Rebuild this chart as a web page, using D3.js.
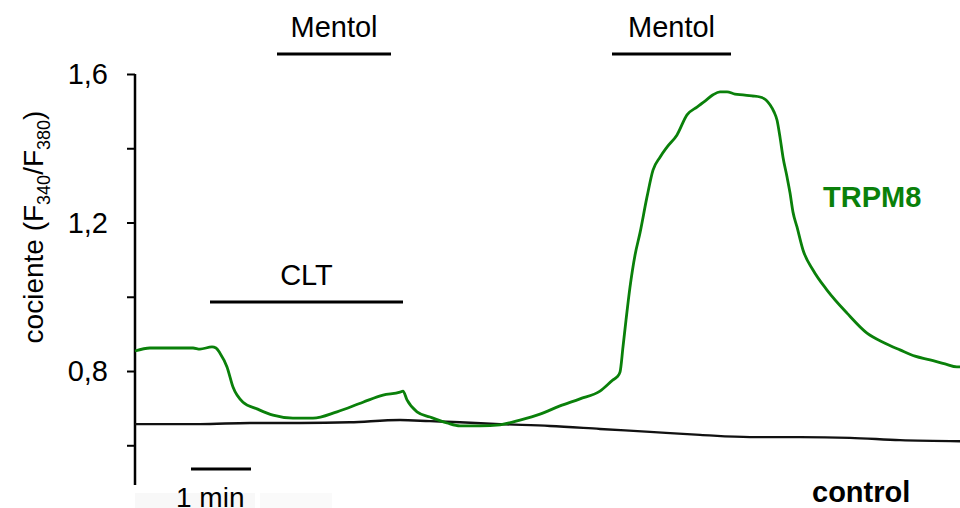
<!DOCTYPE html>
<html lang="es">
<head>
<meta charset="UTF-8" />
<script src="https://cdnjs.cloudflare.com/ajax/libs/d3/7.8.5/d3.min.js"></script>
<title>TRPM8 Mentol</title>
<style>
body { margin: 0; background: #fff; }
svg text { font-family: "Liberation Sans", Arial, sans-serif; }
</style>
</head>
<body>
<svg id="chart" width="960" height="508"></svg>
<script>

// time in seconds, ratio F340/F380
const trpm8Time = [0, 15, 35, 58, 65, 77, 81, 85, 92, 98, 108, 122, 138, 158, 178, 202, 228, 248, 265, 268,
  272, 282, 295, 312, 325, 345, 365, 385, 405, 425, 445, 465, 478, 482, 485, 488, 491, 495, 500, 505,
  512, 518, 525, 532, 542, 552, 562, 570, 578, 585, 592, 600, 608, 617, 625, 631, 635, 639, 642,
  645, 648, 652, 655, 658, 662, 668, 678, 692, 712, 732, 750, 765, 780, 795, 810, 822, 825];
const trpm8Ratio = [0.854, 0.862, 0.862, 0.862, 0.859, 0.865, 0.862, 0.848, 0.811, 0.757, 0.716, 0.698, 0.681, 0.673, 0.673, 0.690, 0.716, 0.735, 0.743, 0.746,
  0.722, 0.690, 0.676, 0.660, 0.652, 0.652, 0.655, 0.668, 0.684, 0.706, 0.725, 0.746, 0.776, 0.784, 0.797, 0.865, 0.937, 1.026, 1.112, 1.172,
  1.269, 1.341, 1.376, 1.403, 1.436, 1.490, 1.511, 1.527, 1.544, 1.552, 1.552, 1.546, 1.544, 1.541, 1.538, 1.530, 1.517, 1.498, 1.476,
  1.430, 1.376, 1.323, 1.280, 1.228, 1.188, 1.126, 1.072, 1.018, 0.956, 0.902, 0.875, 0.857, 0.840, 0.830, 0.819, 0.811, 0.811];

const controlTime = [0, 65, 115, 165, 215, 265, 295, 325, 365, 415, 465, 515, 565, 615, 665, 715, 765, 825];
const controlRatio = [0.657, 0.657, 0.660, 0.660, 0.662, 0.668, 0.665, 0.662, 0.657, 0.652, 0.644, 0.636, 0.628, 0.622, 0.622, 0.620, 0.614, 0.611];

// application bars [start, end] in seconds
const mentolBars = [[142, 256], [477, 596]];
const cltBar = [75, 268];
const scaleBar = [56, 116];

const yTicks = [0.6, 0.8, 1.0, 1.2, 1.4, 1.6];
const yLabels = { 0.8: '0,8', 1.2: '1,2', 1.6: '1,6' };

const svg = d3.select('#chart');
const x = d3.scaleLinear().domain([0, 825]).range([135, 960]);
const y = d3.scaleLinear().domain([0.493, 1.6]).range([485, 74]);

// faint strip at the bottom
svg.append('rect').attr('x', 135).attr('y', 493).attr('width', 120).attr('height', 15).attr('fill', '#f8f8f8');
svg.append('rect').attr('x', 260).attr('y', 493).attr('width', 72).attr('height', 15).attr('fill', '#fafafa');

const yAxis = d3.axisLeft(y)
  .tickValues(yTicks)
  .tickSize(8)
  .tickPadding(19)
  .tickFormat(d => yLabels[d] || '');

const gy = svg.append('g').attr('transform', 'translate(135,0)').call(yAxis);
gy.select('.domain').attr('stroke', '#000').attr('stroke-width', 2.5).attr('d', `M0,${y(1.6)}V485`);
gy.selectAll('.tick line').attr('stroke', '#000').attr('stroke-width', 2);
gy.selectAll('.tick text').attr('font-size', 29).attr('fill', '#000').attr('dy', '0.33em');

// y label
const yl = svg.append('text')
  .attr('transform', 'translate(43,227) rotate(-90)')
  .attr('text-anchor', 'middle')
  .attr('font-size', 28)
  .attr('fill', '#000');
yl.append('tspan').text('cociente (F');
yl.append('tspan').attr('font-size', 18).attr('dy', 7).text('340');
yl.append('tspan').attr('dy', -7).text('/F');
yl.append('tspan').attr('font-size', 18).attr('dy', 7).text('380');
yl.append('tspan').attr('dy', -7).text(')');

const line = d3.line().x(d => x(d[0])).y(d => y(d[1])).curve(d3.curveMonotoneX);

svg.append('path')
  .datum(d3.zip(controlTime, controlRatio))
  .attr('d', line)
  .attr('fill', 'none')
  .attr('stroke', '#111')
  .attr('stroke-width', 2.4);

svg.append('path')
  .datum(d3.zip(trpm8Time, trpm8Ratio))
  .attr('d', line)
  .attr('fill', 'none')
  .attr('stroke', '#0a800a')
  .attr('stroke-width', 2.8)
  .attr('stroke-linejoin', 'round');

// bars
function bar(range, yy, label, ty) {
  svg.append('line')
    .attr('x1', x(range[0])).attr('x2', x(range[1]))
    .attr('y1', yy).attr('y2', yy)
    .attr('stroke', '#000').attr('stroke-width', 2.8);
  if (label) {
    svg.append('text')
      .attr('x', (x(range[0]) + x(range[1])) / 2)
      .attr('y', ty)
      .attr('text-anchor', 'middle')
      .attr('font-size', 29)
      .text(label);
  }
}
mentolBars.forEach(b => bar(b, 54, 'Mentol', 37));
bar(cltBar, 302, 'CLT', 285);
bar(scaleBar, 469, null);

svg.append('text').attr('x', 176).attr('y', 507).attr('font-size', 28).text('1 min');

svg.append('text').attr('x', 823).attr('y', 207)
  .attr('font-size', 29).attr('font-weight', 'bold').attr('fill', '#0a800a').text('TRPM8');
svg.append('text').attr('x', 812).attr('y', 502)
  .attr('font-size', 29).attr('font-weight', 'bold').attr('fill', '#000').text('control');

</script>
</body>
</html>
